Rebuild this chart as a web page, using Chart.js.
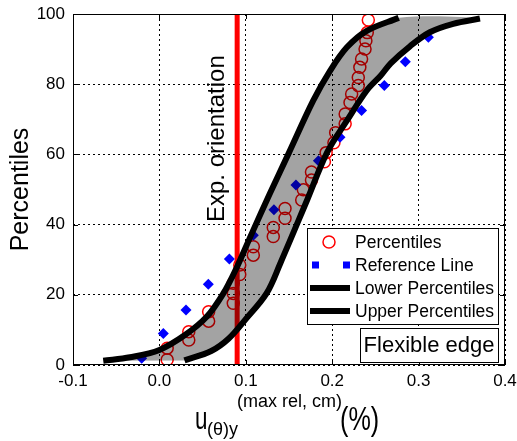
<!DOCTYPE html>
<html>
<head>
<meta charset="utf-8">
<script src="https://cdn.jsdelivr.net/npm/chart.js@4.4.1/dist/chart.umd.min.js"></script>
<style>
  html, body { margin: 0; padding: 0; background: #fff; }
  canvas { display: block; }
</style>
</head>
<body>
<canvas id="chart" width="517" height="441"></canvas>
<script>
const FONT = '"Liberation Sans", Arial, sans-serif';

const xTicks = [-0.1, 0.0, 0.1, 0.2, 0.3, 0.4];
const yTicks = [0, 20, 40, 60, 80, 100];

// measured percentiles (red circles)
const pctX = [0.009, 0.009, 0.034, 0.034, 0.057, 0.057, 0.0855, 0.0855, 0.0855, 0.093, 0.093,
  0.1087, 0.1087, 0.1318, 0.1318, 0.1454, 0.1454, 0.1647, 0.1666, 0.176, 0.176, 0.191, 0.193,
  0.202, 0.204, 0.215, 0.215, 0.2206, 0.2225, 0.2302, 0.2302, 0.232, 0.234, 0.238, 0.239, 0.2406, 0.2418];
const pctY = [1.5, 4.8, 7.1, 9.5, 12.5, 15.2, 17.6, 20.4, 23.3, 25.8, 28.5,
  31.3, 33.7, 36.6, 39.2, 41.8, 44.6, 47, 49.9, 52.7, 55, 57.9, 60.5,
  63.3, 66.2, 68.7, 71.5, 74.8, 77.2, 79.6, 81.9, 84.8, 87.2, 90, 92.4, 94.7, 98.3];

// reference line (blue diamonds)
const refX = [-0.0205, 0.0045, 0.0308, 0.0566, 0.081, 0.1087, 0.1326, 0.158, 0.184, 0.209, 0.234, 0.2603, 0.2846, 0.3113];
const refY = [1.9, 9, 15.7, 23, 30.2, 37, 44.2, 51.3, 58.2, 64.9, 72.5, 79.6, 86.4, 93.4];

// percentile band edges
const lowX = [-0.065, -0.034, 0.0, 0.03, 0.055, 0.074, 0.088, 0.107, 0.128, 0.15, 0.178, 0.1975, 0.217, 0.24, 0.277];
const lowY = [1.2, 2.2, 4.3, 8.6, 13.8, 20.4, 27, 37.5, 48.9, 60.5, 75.3, 83.8, 90.5, 95.2, 98.9];
const upX = [0.029, 0.06, 0.08, 0.099, 0.124, 0.14, 0.171, 0.194, 0.217, 0.24, 0.256, 0.268, 0.29, 0.313, 0.34, 0.371];
const upY = [1.3, 4, 7.5, 12.8, 20.4, 29, 47, 60.5, 69.6, 78.2, 82.4, 86, 90.8, 94.8, 97.2, 98.7];

const expX = 0.09;

const pts = (xs, ys) => xs.map((x, i) => ({ x, y: ys[i] }));
const band = pts(lowX, lowY).concat(pts(upX, upY).reverse());

const decor = {
  id: 'decor',
  afterDraw(chart) {
    const { ctx, chartArea: a, scales: { x, y } } = chart;
    ctx.save();

    // inner tick marks + box
    ctx.strokeStyle = '#000';
    ctx.lineWidth = 1;
    ctx.beginPath();
    xTicks.forEach(v => {
      const px = Math.round(x.getPixelForValue(v)) + 0.5;
      ctx.moveTo(px, a.bottom); ctx.lineTo(px, a.bottom - 5);
      ctx.moveTo(px, a.top); ctx.lineTo(px, a.top + 5);
    });
    yTicks.forEach(v => {
      const py = Math.round(y.getPixelForValue(v)) + 0.5;
      ctx.moveTo(a.left, py); ctx.lineTo(a.left + 5, py);
      ctx.moveTo(a.right, py); ctx.lineTo(a.right - 5, py);
    });
    ctx.stroke();
    ctx.strokeRect(Math.round(a.left) + 0.5, Math.round(a.top) + 0.5,
      Math.round(a.right - a.left) - 1, Math.round(a.bottom - a.top) - 1);

    // vertical annotation
    ctx.save();
    ctx.translate(x.getPixelForValue(expX) - 20, y.getPixelForValue(64.5));
    ctx.rotate(-Math.PI / 2);
    ctx.fillStyle = '#000';
    ctx.font = '24px ' + FONT;
    ctx.textAlign = 'center';
    ctx.textBaseline = 'middle';
    ctx.fillText('Exp. orientation', 0, 0);
    ctx.restore();

    // legend
    ctx.fillStyle = '#fff';
    ctx.fillRect(307, 228, 191, 96);
    ctx.strokeStyle = '#000';
    ctx.strokeRect(307.5, 228.5, 191, 96);
    const rows = [242, 265, 288, 311];
    const ds = chart.data.datasets.filter(d => d.legendRow !== undefined);
    ds.forEach(d => {
      const ry = rows[d.legendRow];
      if (d.pointStyle === 'circle') {
        ctx.beginPath();
        ctx.arc(329, ry, 6, 0, Math.PI * 2);
        ctx.strokeStyle = d.borderColor;
        ctx.lineWidth = 1.5;
        ctx.stroke();
      } else if (d.pointStyle === 'rectRot') {
        ctx.fillStyle = d.backgroundColor;
        ctx.fillRect(312, ry - 3.5, 7, 7);
        ctx.fillRect(343, ry - 3.5, 7, 7);
      } else {
        ctx.beginPath();
        ctx.moveTo(310, ry); ctx.lineTo(350, ry);
        ctx.strokeStyle = d.borderColor;
        ctx.lineWidth = 6;
        ctx.stroke();
      }
      ctx.fillStyle = '#000';
      ctx.font = '17.5px ' + FONT;
      ctx.textAlign = 'left';
      ctx.textBaseline = 'middle';
      ctx.fillText(d.label, 355, ry + 1);
    });

    // case label
    ctx.fillStyle = '#fff';
    ctx.fillRect(360, 328, 138, 34);
    ctx.strokeStyle = '#000';
    ctx.lineWidth = 1;
    ctx.strokeRect(360.5, 328.5, 138, 34);
    ctx.fillStyle = '#000';
    ctx.font = '22px ' + FONT;
    ctx.textAlign = 'center';
    ctx.textBaseline = 'middle';
    ctx.fillText('Flexible edge', 429, 346);

    // x axis title with sub/superscript
    ctx.textAlign = 'left';
    ctx.textBaseline = 'alphabetic';
    ctx.save();
    ctx.translate(195, 429);
    ctx.scale(0.7, 1);
    ctx.font = '32px ' + FONT;
    ctx.fillText('u', 0, 0);
    ctx.restore();
    ctx.font = '18px ' + FONT;
    ctx.fillText('(\u03b8)y', 207, 435);
    ctx.fillText('(max rel, cm)', 237, 407);
    ctx.save();
    ctx.translate(340, 430);
    ctx.scale(0.74, 1);
    ctx.font = '34px ' + FONT;
    ctx.fillText('(%)', 0, 0);
    ctx.restore();

    ctx.restore();
  }
};

const ctx = document.getElementById('chart').getContext('2d');
const chart = new Chart(ctx, {
  type: 'line',
  data: {
    datasets: [
      {
        label: 'Upper Percentiles',
        data: pts(upX, upY),
        borderColor: '#000',
        borderWidth: 6,
        pointRadius: 0,
        tension: 0.35,
        fill: false,
        order: 0,
        legendRow: 3
      },
      {
        label: 'Lower Percentiles',
        data: pts(lowX, lowY),
        borderColor: '#000',
        borderWidth: 6,
        pointRadius: 0,
        tension: 0.35,
        fill: false,
        order: 1,
        legendRow: 2
      },
      {
        label: '',
        data: band,
        borderWidth: 0,
        borderColor: 'rgba(0,0,0,0)',
        backgroundColor: 'rgba(0,0,0,0.36)',
        pointRadius: 0,
        tension: 0.35,
        fill: 'shape',
        order: 2
      },
      {
        label: 'Reference Line',
        data: pts(refX, refY),
        showLine: false,
        pointStyle: 'rectRot',
        pointRadius: 5.5,
        borderWidth: 0,
        backgroundColor: '#0000ff',
        borderColor: '#0000ff',
        order: 3,
        legendRow: 1
      },
      {
        label: 'Percentiles',
        data: pts(pctX, pctY),
        showLine: false,
        pointStyle: 'circle',
        pointRadius: 6,
        borderWidth: 1.5,
        borderColor: '#ff0000',
        backgroundColor: 'rgba(0,0,0,0)',
        order: 4,
        legendRow: 0
      },
      {
        label: '',
        data: [{ x: expX, y: 0 }, { x: expX, y: 100 }],
        borderColor: '#ff0000',
        borderWidth: 5,
        pointRadius: 0,
        fill: false,
        order: 5
      }
    ]
  },
  options: {
    responsive: false,
    animation: false,
    events: [],
    layout: { padding: { top: 14, right: 12, left: 0, bottom: 0 } },
    plugins: {
      legend: { display: false },
      tooltip: { enabled: false }
    },
    scales: {
      x: {
        type: 'linear',
        min: -0.1,
        max: 0.4,
        afterBuildTicks: s => { s.ticks = xTicks.map(v => ({ value: v })); },
        afterFit: s => { s.height = 76; s.paddingLeft = 0; s.paddingRight = 0; },
        ticks: {
          color: '#000',
          font: { family: FONT, size: 17 },
          padding: 6,
          maxRotation: 0,
          callback: v => v.toFixed(1)
        },
        grid: { color: '#000', lineWidth: 1, drawTicks: false },
        border: { display: false, dash: [2, 3] }
      },
      y: {
        type: 'linear',
        min: 0,
        max: 100,
        afterBuildTicks: s => { s.ticks = yTicks.map(v => ({ value: v })); },
        afterFit: s => { s.width = 73; s.paddingTop = 0; s.paddingBottom = 0; },
        ticks: {
          color: '#000',
          font: { family: FONT, size: 17 },
          padding: 8
        },
        grid: { color: '#000', lineWidth: 1, drawTicks: false },
        border: { display: false, dash: [2, 3] },
        title: {
          display: true,
          text: 'Percentiles',
          color: '#000',
          font: { family: FONT, size: 25 },
          padding: { top: 6, bottom: 0 }
        }
      }
    }
  },
  plugins: [decor]
});
</script>
</body>
</html>
